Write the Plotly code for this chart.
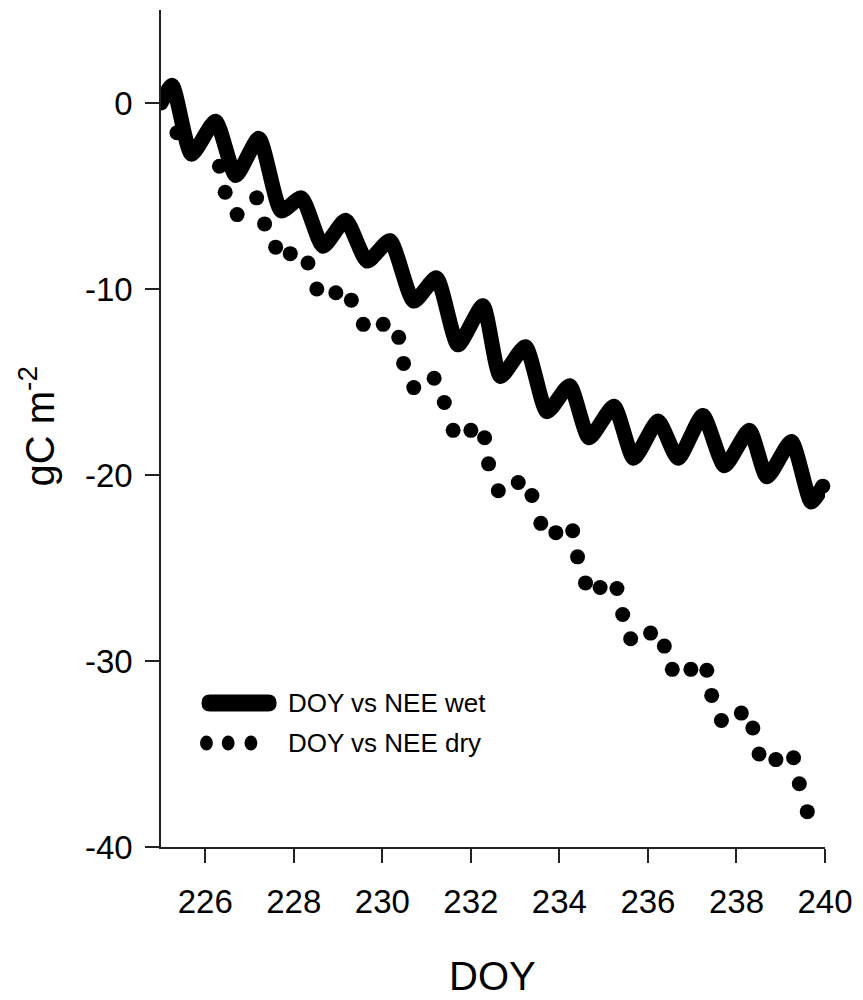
import plotly.graph_objects as go

# ---------------- data ----------------
wet_doy = [225.0, 225.25, 225.69, 226.23, 226.69, 227.21, 227.72, 228.17, 228.66,
           229.17, 229.66, 230.17, 230.71, 231.22, 231.71, 232.27, 232.67, 233.23,
           233.72, 234.23, 234.67, 235.23, 235.68, 236.23, 236.68, 237.24, 237.73,
           238.29, 238.69, 239.24, 239.69, 239.95]
wet_nee = [0.0, 0.95, -2.75, -0.98, -3.9, -1.9, -5.8, -5.1, -7.7,
           -6.3, -8.5, -7.4, -10.65, -9.4, -13.0, -10.9, -14.7, -13.1,
           -16.6, -15.2, -18.0, -16.3, -19.1, -17.1, -19.1, -16.8, -19.5,
           -17.6, -20.1, -18.2, -21.45, -20.6]

dry_doy = [225.0, 225.36, 226.32, 226.45, 226.72, 227.16, 227.34, 227.59, 227.92,
           228.32, 228.52, 228.95, 229.30, 229.57, 230.02, 230.37, 230.48, 230.71,
           231.17, 231.40, 231.60, 232.0, 232.31, 232.40, 232.62, 233.07, 233.38,
           233.58, 233.92, 234.30, 234.41, 234.59, 234.92, 235.30, 235.43, 235.61,
           236.06, 236.37, 236.55, 236.97, 237.33, 237.44, 237.66, 238.11, 238.37,
           238.51, 238.89, 239.29, 239.42, 239.60]
dry_nee = [0.0, -1.6, -3.4, -4.8, -6.0, -5.1, -6.5, -7.75, -8.1,
           -8.6, -10.0, -10.2, -10.6, -11.9, -11.9, -12.6, -14.0, -15.3,
           -14.8, -16.1, -17.6, -17.6, -18.0, -19.4, -20.85, -20.4, -21.1,
           -22.6, -23.1, -23.0, -24.4, -25.8, -26.05, -26.1, -27.5, -28.8,
           -28.5, -29.2, -30.45, -30.45, -30.5, -31.85, -33.2, -32.8, -33.6,
           -35.0, -35.3, -35.2, -36.6, -38.1]

x_ticks = [226, 228, 230, 232, 234, 236, 238, 240]
y_ticks = [0, -10, -20, -30, -40]
legend_labels = ["DOY vs NEE wet", "DOY vs NEE dry"]

# ---------------- layout geometry ----------------
W, H = 863, 1000
L, R, T, B = 161, 833, 10, 847


def px(x):
    return (x - L) / (R - L)


def py(y):
    return (B - y) / (B - T)


FONT = "Liberation Sans, Arial, sans-serif"

fig = go.Figure()

fig.add_trace(go.Scatter(
    x=wet_doy, y=wet_nee, mode="lines",
    line=dict(color="black", width=15, shape="spline", smoothing=0.6),
    name=legend_labels[0], showlegend=False, hoverinfo="skip"))

# rounded end cap of the thick wet line
fig.add_trace(go.Scatter(
    x=wet_doy[-1:], y=wet_nee[-1:], mode="markers",
    marker=dict(color="black", size=15, opacity=1, line=dict(width=0)),
    showlegend=False, hoverinfo="skip", cliponaxis=False))

fig.add_trace(go.Scatter(
    x=dry_doy, y=dry_nee, mode="markers",
    marker=dict(color="black", size=15, line=dict(width=0)),
    name=legend_labels[1], showlegend=False, hoverinfo="skip"))

axis_common = dict(
    showline=True, linecolor="#222222", linewidth=1.5,
    ticks="outside", ticklen=14, tickwidth=1.5, tickcolor="#222222",
    showgrid=False, zeroline=False,
    tickfont=dict(family=FONT, size=33, color="black"),
)

fig.update_layout(
    width=W, height=H,
    margin=dict(l=L, r=W - R, t=T, b=H - B, pad=0),
    paper_bgcolor="white", plot_bgcolor="white",
    xaxis=dict(range=[225, 240], tickvals=x_ticks,
               ticktext=[str(v) for v in x_ticks], ticklabelstandoff=11,
               **axis_common),
    yaxis=dict(range=[-40, 5], tickvals=y_ticks,
               ticktext=[str(v) for v in y_ticks], ticklabelstandoff=6,
               **axis_common),
    showlegend=False,
)

# axis titles
fig.add_annotation(x=px(496.5), y=py(976), xref="paper", yref="paper",
                   text="DOY", showarrow=False, xanchor="center", yanchor="middle",
                   font=dict(family=FONT, size=40, color="black"))
fig.add_annotation(x=px(36), y=py(426), xref="paper", yref="paper",
                   text="gC m<sup>-2</sup>", showarrow=False, textangle=-90,
                   xanchor="center", yanchor="middle",
                   font=dict(family=FONT, size=40, color="black"))

# manual legend
x0, x1, yc, r = 202, 278, 703, 8.5
pts = [
    f"M {px(x0 + r)},{py(yc - r)}",
    f"L {px(x1 - r)},{py(yc - r)}",
    f"Q {px(x1)},{py(yc - r)} {px(x1)},{py(yc)}",
    f"Q {px(x1)},{py(yc + r)} {px(x1 - r)},{py(yc + r)}",
    f"L {px(x0 + r)},{py(yc + r)}",
    f"Q {px(x0)},{py(yc + r)} {px(x0)},{py(yc)}",
    f"Q {px(x0)},{py(yc - r)} {px(x0 + r)},{py(yc - r)}",
    "Z",
]
fig.add_shape(type="path", path=" ".join(pts), xref="paper", yref="paper",
              fillcolor="black", line=dict(width=0))
for cx in [207, 229, 252]:
    fig.add_shape(type="circle", xref="paper", yref="paper",
                  x0=px(cx - 6.5), x1=px(cx + 6.5), y0=py(743 + 7.5), y1=py(743 - 7.5),
                  fillcolor="black", line=dict(width=0))
for lab, yy in zip(legend_labels, [703, 743]):
    fig.add_annotation(x=px(287), y=py(yy), xref="paper", yref="paper",
                       text=lab, showarrow=False, xanchor="left", yanchor="middle",
                       font=dict(family=FONT, size=26, color="black"))

fig.write_html("out.html")
